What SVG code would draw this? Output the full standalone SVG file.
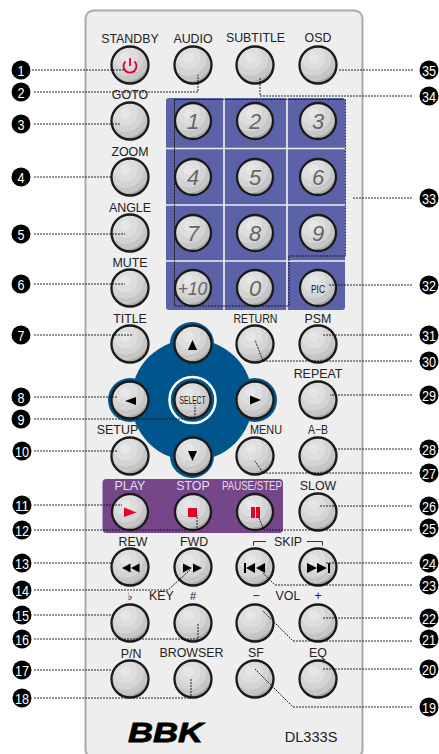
<svg xmlns="http://www.w3.org/2000/svg" width="439" height="754" viewBox="0 0 439 754">
<style>
text{font-family:"Liberation Sans",Arial,sans-serif}
.l{font-size:12.400px;fill:#222;text-anchor:middle}
.w{font-size:12.400px;fill:#e6dcec;text-anchor:middle}
.n{font-size:22px;font-style:italic;fill:#666;text-anchor:middle}
.b{fill:url(#g);stroke:#1a1a1a;stroke-width:2.300}
.c{fill:none;stroke:#111;stroke-width:.9;stroke-dasharray:2 1}
.d{fill:#000}
.t{font-size:15.500px;fill:#fff;text-anchor:middle}
.k{fill:#000}.r{fill:#e4002b}
</style>
<defs>
<radialGradient id="g" cx=".38" cy=".3" r=".75">
<stop offset="0" stop-color="#e6e6e6"/><stop offset=".18" stop-color="#e6e6e6"/>
<stop offset=".2" stop-color="#dedede"/><stop offset=".42" stop-color="#dedede"/>
<stop offset=".44" stop-color="#d4d4d4"/><stop offset=".64" stop-color="#d4d4d4"/>
<stop offset=".66" stop-color="#c6c6c6"/><stop offset=".84" stop-color="#c6c6c6"/>
<stop offset=".86" stop-color="#aeaeae"/><stop offset="1" stop-color="#a4a4a4"/>
</radialGradient>
</defs>
<rect id="body" x="85.500" y="10.500" width="277" height="747" rx="8" fill="#eeeeee" stroke="#aaaaaa" stroke-width="2"/>
<g id="panels">
<rect x="166" y="98" width="179" height="212" rx="3" fill="#5b62a8"/>
<path d="M224 98V310M287 98V310M166 148.500H345M166 205H345M166 261H345" stroke="#eeeeee" stroke-width="1.700" fill="none"/>
<g fill="#00568c"><circle cx="192" cy="400" r="61"/><circle cx="192" cy="344" r="22"/><circle cx="192" cy="456" r="22"/><circle cx="130" cy="400" r="22"/><circle cx="255" cy="400" r="22"/></g>
<circle cx="192.500" cy="400" r="23" fill="none" stroke="#fff" stroke-width="2.500"/>
<rect x="102.500" y="479" width="180.500" height="54" rx="4" fill="#75478a"/>
</g>
<g id="buttons">
<g id="standby"><circle class="b" cx="130" cy="65" r="18.500"/><path d="M130 58V66M125.500 61.500a6.500 6.500 0 1 0 9 0" fill="none" stroke="#e4002b" stroke-width="1.800"/><text class="l" x="130" y="43">STANDBY</text></g>
<g id="audio"><circle class="b" cx="193" cy="65" r="18.500"/><text class="l" x="193" y="43">AUDIO</text></g>
<g id="subtitle"><circle class="b" cx="255" cy="65" r="18.500"/><text class="l" x="255.500" y="41.500">SUBTITLE</text></g>
<g id="osd"><circle class="b" cx="318" cy="65" r="18.500"/><text class="l" x="318" y="41.500">OSD</text></g>
<g id="goto"><circle class="b" cx="130" cy="121" r="18.500"/><text class="l" x="130" y="99">GOTO</text></g>
<g id="zoom"><circle class="b" cx="130" cy="177" r="18.500"/><text class="l" x="130" y="155.500">ZOOM</text></g>
<g id="angle"><circle class="b" cx="130" cy="233" r="18.500"/><text class="l" x="130" y="211.500">ANGLE</text></g>
<g id="mute"><circle class="b" cx="130" cy="288" r="18.500"/><text class="l" x="130" y="267">MUTE</text></g>
<g id="title"><circle class="b" cx="130" cy="344" r="18.500"/><text class="l" x="130" y="322.500">TITLE</text></g>
<g id="n1"><circle class="b" cx="193" cy="121" r="18"/><text class="n" x="193" y="129">1</text></g>
<g id="n2"><circle class="b" cx="255" cy="121" r="18"/><text class="n" x="255" y="129">2</text></g>
<g id="n3"><circle class="b" cx="318" cy="121" r="18"/><text class="n" x="318" y="129">3</text></g>
<g id="n4"><circle class="b" cx="193" cy="177" r="18"/><text class="n" x="193" y="185">4</text></g>
<g id="n5"><circle class="b" cx="255" cy="177" r="18"/><text class="n" x="255" y="185">5</text></g>
<g id="n6"><circle class="b" cx="318" cy="177" r="18"/><text class="n" x="318" y="185">6</text></g>
<g id="n7"><circle class="b" cx="193" cy="233" r="18"/><text class="n" x="193" y="241">7</text></g>
<g id="n8"><circle class="b" cx="255" cy="233" r="18"/><text class="n" x="255" y="241">8</text></g>
<g id="n9"><circle class="b" cx="318" cy="233" r="18"/><text class="n" x="318" y="241">9</text></g>
<g id="n10"><circle class="b" cx="193" cy="288" r="18"/><text class="n" x="192.500" y="295" style="font-size:17.500px">+10</text></g>
<g id="n0"><circle class="b" cx="255" cy="288" r="18"/><text class="n" x="255" y="296">0</text></g>
<g id="pic"><circle class="b" cx="318" cy="288" r="18"/><text x="318" y="292.500" text-anchor="middle" font-size="10" textLength="14" lengthAdjust="spacingAndGlyphs" fill="#111">PIC</text></g>
<g id="up"><circle class="b" cx="193" cy="344" r="18.500"/><path class="k" d="M192.500 340l-4.500 10h9z"/></g>
<g id="left"><circle class="b" cx="130" cy="400" r="18.500"/><path class="k" d="M125 401l11-4v8z"/></g>
<g id="select"><circle class="b" cx="192.500" cy="400" r="18"/><text x="192.500" y="404" text-anchor="middle" font-size="10" textLength="26" lengthAdjust="spacingAndGlyphs" fill="#111">SELECT</text></g>
<g id="right"><circle class="b" cx="255" cy="400" r="18.500"/><path class="k" d="M261 400l-11-4.500v9z"/></g>
<g id="down"><circle class="b" cx="193" cy="456" r="18.500"/><path class="k" d="M192.500 461l-4.500-10h9z"/></g>
<g id="return"><circle class="b" cx="255" cy="344" r="18.500"/><text class="l" x="255.500" y="322.500" textLength="44" lengthAdjust="spacingAndGlyphs">RETURN</text></g>
<g id="psm"><circle class="b" cx="318" cy="344" r="18.500"/><text class="l" x="318" y="322.500">PSM</text></g>
<g id="repeat"><circle class="b" cx="318" cy="400" r="18.500"/><text class="l" x="318" y="378">REPEAT</text></g>
<g id="setup"><circle class="b" cx="130" cy="456" r="18.500"/><text class="l" x="117.500" y="434">SETUP</text></g>
<g id="menu"><circle class="b" cx="255" cy="456" r="18.500"/><text class="l" x="266" y="434" textLength="32" lengthAdjust="spacingAndGlyphs">MENU</text></g>
<g id="ab"><circle class="b" cx="318" cy="456" r="18.500"/><text class="l" x="318" y="434" textLength="20" lengthAdjust="spacingAndGlyphs">A−B</text></g>
<g id="play"><circle class="b" cx="130" cy="512" r="18"/><path class="r" d="M124 507.500l12.500 5-12.500 4.500z"/><text class="w" x="130" y="489.500">PLAY</text></g>
<g id="stop"><circle class="b" cx="193" cy="512" r="18"/><rect class="r" x="188" y="508" width="9" height="9"/><text class="w" x="193" y="489.500">STOP</text></g>
<g id="pause"><circle class="b" cx="255" cy="512" r="18"/><path class="r" d="M251 507h4v11h-4zM256 507h4v11h-4z"/><text class="w" x="252" y="490" textLength="60" lengthAdjust="spacingAndGlyphs">PAUSE/STEP</text></g>
<g id="slow"><circle class="b" cx="318" cy="512" r="18.500"/><text class="l" x="318" y="490">SLOW</text></g>
<g id="rew"><circle class="b" cx="130" cy="567" r="18.500"/><path class="k" d="M122 568l8.500-4.500v9zM131 568l8.500-4.500v9z"/><text class="l" x="133" y="545.500">REW</text></g>
<g id="fwd"><circle class="b" cx="193" cy="567" r="18.500"/><path class="k" d="M192 568l-9-4.500v9zM202 568l-9-4.500v9z"/><text class="l" x="194" y="545.500">FWD</text></g>
<g id="prev"><circle class="b" cx="255" cy="567" r="18.500"/><path class="k" d="M244 563h2v10h-2zM246 568l9-5v10zM256 568l9-5v10z"/></g>
<g id="next"><circle class="b" cx="318" cy="567" r="18.500"/><path class="k" d="M317 568l-10-5v10zM327 568l-10-5v10zM328 563h2v10h-2z"/></g>
<g id="skip"><path d="M253.500 545.500v-4H266M307 541.500H322.500V545.500" fill="none" stroke="#333"/><text class="l" x="288" y="545.500">SKIP</text></g>
<g id="flat"><circle class="b" cx="130" cy="623" r="18.500"/><text class="l" x="130" y="600" style="font-size:11px;font-family:'DejaVu Sans',sans-serif">♭</text></g>
<g id="key"><text class="l" x="161.500" y="600">KEY</text></g>
<g id="sharp"><circle class="b" cx="193" cy="623" r="18.500"/><text class="l" x="193" y="600" style="font-size:11px">#</text></g>
<g id="minus"><circle class="b" cx="255" cy="623" r="18.500"/><text class="l" x="256" y="600">−</text></g>
<g id="vol"><text class="l" x="288" y="600">VOL</text></g>
<g id="plus"><circle class="b" cx="318" cy="623" r="18.500"/><text class="l" x="318" y="600">+</text></g>
<g id="pn"><circle class="b" cx="130" cy="679" r="18.500"/><text class="l" x="131" y="657.500">P/N</text></g>
<g id="browser"><circle class="b" cx="193" cy="679" r="18.500"/><text class="l" x="191.500" y="657">BROWSER</text></g>
<g id="sf"><circle class="b" cx="255" cy="679" r="18.500"/><text class="l" x="256" y="657">SF</text></g>
<g id="eq"><circle class="b" cx="318" cy="679" r="18.500"/><text class="l" x="318" y="657">EQ</text></g>
<g id="logo"><text x="128" y="742" font-size="28" font-weight="bold" font-style="italic" textLength="75" lengthAdjust="spacingAndGlyphs" fill="#000" stroke="#000" stroke-width=".8">BBK</text></g>
<g id="model"><text x="311" y="742" text-anchor="middle" font-size="14.600" fill="#222">DL333S</text></g>
</g>
<g id="connectors">
<path class="c" d="M32 70H125M34 92H198V75M34 124H120M34 177H112M34 234H125M34 284H125M34 335H133M34 397H118M34 419H195V405M34 451H117M34 505H122M34 530H197V515M34 563H112M34 590H168L190 570M34 615H112M34 639H198V624M34 670H112M34 698H191V678"/>
<path class="c" d="M413 70H338M412 96H260V78M174.500 99.500H345.500V256H289V306H174.500ZM353 198H412M412 285H328M412 335H323M412 361H263L255 340M412 395H330M412 449H335M412 473H263L255 461M412 506H320M412 530H264L259 518M412 563H325M412 585H275L263 573M412 618H323M412 641H293L263 611M412 669H323M412 707H293L255 669"/>
</g>
<g id="c1"><circle class="d" cx="21" cy="70" r="9.500"/><text class="t" x="21" y="75.500" textLength="7" lengthAdjust="spacingAndGlyphs">1</text></g>
<g id="c2"><circle class="d" cx="21" cy="92" r="9.500"/><text class="t" x="21" y="97.500" textLength="7" lengthAdjust="spacingAndGlyphs">2</text></g>
<g id="c3"><circle class="d" cx="21" cy="124" r="9.500"/><text class="t" x="21" y="129.500" textLength="7" lengthAdjust="spacingAndGlyphs">3</text></g>
<g id="c4"><circle class="d" cx="21" cy="177" r="9.500"/><text class="t" x="21" y="182.500" textLength="7" lengthAdjust="spacingAndGlyphs">4</text></g>
<g id="c5"><circle class="d" cx="21" cy="234" r="9.500"/><text class="t" x="21" y="239.500" textLength="7" lengthAdjust="spacingAndGlyphs">5</text></g>
<g id="c6"><circle class="d" cx="21" cy="284" r="9.500"/><text class="t" x="21" y="289.500" textLength="7" lengthAdjust="spacingAndGlyphs">6</text></g>
<g id="c7"><circle class="d" cx="21" cy="335" r="9.500"/><text class="t" x="21" y="340.500" textLength="7" lengthAdjust="spacingAndGlyphs">7</text></g>
<g id="c8"><circle class="d" cx="21" cy="397" r="9.500"/><text class="t" x="21" y="402.500" textLength="7" lengthAdjust="spacingAndGlyphs">8</text></g>
<g id="c9"><circle class="d" cx="21" cy="419" r="9.500"/><text class="t" x="21" y="424.500" textLength="7" lengthAdjust="spacingAndGlyphs">9</text></g>
<g id="c10"><circle class="d" cx="22" cy="451" r="9.500"/><text class="t" x="22" y="456.500" textLength="14" lengthAdjust="spacingAndGlyphs">10</text></g>
<g id="c11"><circle class="d" cx="22" cy="505" r="9.500"/><text class="t" x="22" y="510.500" textLength="14" lengthAdjust="spacingAndGlyphs">11</text></g>
<g id="c12"><circle class="d" cx="22" cy="530" r="9.500"/><text class="t" x="22" y="535.500" textLength="14" lengthAdjust="spacingAndGlyphs">12</text></g>
<g id="c13"><circle class="d" cx="22" cy="563" r="9.500"/><text class="t" x="22" y="568.500" textLength="14" lengthAdjust="spacingAndGlyphs">13</text></g>
<g id="c14"><circle class="d" cx="22" cy="590" r="9.500"/><text class="t" x="22" y="595.500" textLength="14" lengthAdjust="spacingAndGlyphs">14</text></g>
<g id="c15"><circle class="d" cx="22" cy="615" r="9.500"/><text class="t" x="22" y="620.500" textLength="14" lengthAdjust="spacingAndGlyphs">15</text></g>
<g id="c16"><circle class="d" cx="22" cy="639" r="9.500"/><text class="t" x="22" y="644.500" textLength="14" lengthAdjust="spacingAndGlyphs">16</text></g>
<g id="c17"><circle class="d" cx="22" cy="670" r="9.500"/><text class="t" x="22" y="675.500" textLength="14" lengthAdjust="spacingAndGlyphs">17</text></g>
<g id="c18"><circle class="d" cx="22" cy="698" r="9.500"/><text class="t" x="22" y="703.500" textLength="14" lengthAdjust="spacingAndGlyphs">18</text></g>
<g id="c19"><circle class="d" cx="429" cy="707" r="9.500"/><text class="t" x="429" y="712.500" textLength="14" lengthAdjust="spacingAndGlyphs">19</text></g>
<g id="c20"><circle class="d" cx="429" cy="669" r="9.500"/><text class="t" x="429" y="674.500" textLength="14" lengthAdjust="spacingAndGlyphs">20</text></g>
<g id="c21"><circle class="d" cx="429" cy="639" r="9.500"/><text class="t" x="429" y="644.500" textLength="14" lengthAdjust="spacingAndGlyphs">21</text></g>
<g id="c22"><circle class="d" cx="429" cy="618" r="9.500"/><text class="t" x="429" y="623.500" textLength="14" lengthAdjust="spacingAndGlyphs">22</text></g>
<g id="c23"><circle class="d" cx="429" cy="585" r="9.500"/><text class="t" x="429" y="590.500" textLength="14" lengthAdjust="spacingAndGlyphs">23</text></g>
<g id="c24"><circle class="d" cx="429" cy="563" r="9.500"/><text class="t" x="429" y="568.500" textLength="14" lengthAdjust="spacingAndGlyphs">24</text></g>
<g id="c25"><circle class="d" cx="429" cy="528" r="9.500"/><text class="t" x="429" y="533.500" textLength="14" lengthAdjust="spacingAndGlyphs">25</text></g>
<g id="c26"><circle class="d" cx="429" cy="506" r="9.500"/><text class="t" x="429" y="511.500" textLength="14" lengthAdjust="spacingAndGlyphs">26</text></g>
<g id="c27"><circle class="d" cx="429" cy="473" r="9.500"/><text class="t" x="429" y="478.500" textLength="14" lengthAdjust="spacingAndGlyphs">27</text></g>
<g id="c28"><circle class="d" cx="429" cy="449" r="9.500"/><text class="t" x="429" y="454.500" textLength="14" lengthAdjust="spacingAndGlyphs">28</text></g>
<g id="c29"><circle class="d" cx="429" cy="395" r="9.500"/><text class="t" x="429" y="400.500" textLength="14" lengthAdjust="spacingAndGlyphs">29</text></g>
<g id="c30"><circle class="d" cx="429" cy="361" r="9.500"/><text class="t" x="429" y="366.500" textLength="14" lengthAdjust="spacingAndGlyphs">30</text></g>
<g id="c31"><circle class="d" cx="429" cy="335" r="9.500"/><text class="t" x="429" y="340.500" textLength="14" lengthAdjust="spacingAndGlyphs">31</text></g>
<g id="c32"><circle class="d" cx="429" cy="285" r="9.500"/><text class="t" x="429" y="290.500" textLength="14" lengthAdjust="spacingAndGlyphs">32</text></g>
<g id="c33"><circle class="d" cx="429" cy="198" r="9.500"/><text class="t" x="429" y="203.500" textLength="14" lengthAdjust="spacingAndGlyphs">33</text></g>
<g id="c34"><circle class="d" cx="429" cy="96" r="9.500"/><text class="t" x="429" y="101.500" textLength="14" lengthAdjust="spacingAndGlyphs">34</text></g>
<g id="c35"><circle class="d" cx="429" cy="70" r="9.500"/><text class="t" x="429" y="75.500" textLength="14" lengthAdjust="spacingAndGlyphs">35</text></g>
</svg>
